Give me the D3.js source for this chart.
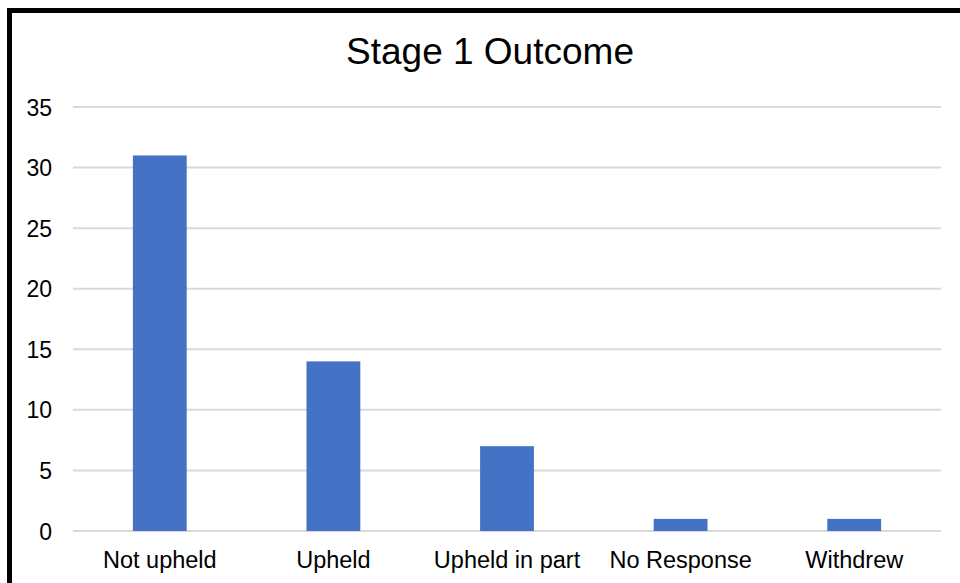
<!DOCTYPE html>
<html>
<head>
<meta charset="utf-8">
<script src="https://cdn.jsdelivr.net/npm/d3@7"></script>
<style>
  body { margin: 0; background: #fff; }
  svg { display: block; font-family: "Liberation Sans", Arial, sans-serif; }
</style>
</head>
<body>
<div class="chart"></div>
<script>
// chart data
var categories = ["Not upheld", "Upheld", "Upheld in part", "No Response", "Withdrew"];
var values = [31, 14, 7, 1, 1];
var yTicks = [0, 5, 10, 15, 20, 25, 30, 35];
var title = "Stage 1 Outcome";

var W = 960, H = 583;
var plot = {left: 73, right: 941, top: 107, bottom: 531};

var svg = d3.select(".chart")
  .append("svg")
    .attr("width", W)
    .attr("height", H);

svg.append("rect")
  .attr("width", W).attr("height", H)
  .attr("fill", "#fff");

// frame (cut off at right and bottom in the original)
svg.append("rect")
  .attr("x", 9.5).attr("y", 10.5)
  .attr("width", W + 20).attr("height", H + 20)
  .attr("fill", "none")
  .attr("stroke", "#000")
  .attr("stroke-width", 5);

var x = d3.scaleBand()
  .domain(categories)
  .range([plot.left, plot.right])
  .paddingInner(0.69)
  .paddingOuter(0.345);

var y = d3.scaleLinear()
  .domain([0, 35])
  .range([plot.bottom, plot.top]);

// gridlines
svg.append("g")
  .selectAll("line")
  .data(yTicks)
  .enter().append("line")
    .attr("x1", plot.left)
    .attr("x2", plot.right)
    .attr("y1", function(d) { return y(d); })
    .attr("y2", function(d) { return y(d); })
    .attr("stroke", "#d9d9d9")
    .attr("stroke-width", 2);

// bars
svg.append("g")
  .selectAll("rect")
  .data(values)
  .enter().append("rect")
    .attr("x", function(d, i) { return x(categories[i]); })
    .attr("y", function(d) { return y(d); })
    .attr("width", x.bandwidth())
    .attr("height", function(d) { return y(0) - y(d); })
    .attr("fill", "#4472c4");

// y axis labels
var yAxis = d3.axisLeft(y)
  .tickValues(yTicks)
  .tickSize(0)
  .tickPadding(21);

var gy = svg.append("g")
  .attr("transform", "translate(" + plot.left + ",0)")
  .call(yAxis);
gy.select(".domain").remove();
gy.selectAll("text")
  .attr("font-size", 23)
  .attr("font-family", "Liberation Sans, Arial, sans-serif")
  .attr("fill", "#000")
  .attr("dy", "0.35em");

// x axis labels
var xAxis = d3.axisBottom(x).tickSize(0).tickPadding(20);
var gx = svg.append("g")
  .attr("transform", "translate(0," + plot.bottom + ")")
  .call(xAxis);
gx.select(".domain").remove();
gx.selectAll("text")
  .attr("font-size", 23.5)
  .attr("font-family", "Liberation Sans, Arial, sans-serif")
  .attr("fill", "#000");

svg.append("text")
  .attr("x", 490)
  .attr("y", 64)
  .attr("text-anchor", "middle")
  .attr("font-size", 37)
  .attr("fill", "#000")
  .text(title);
</script>
</body>
</html>
